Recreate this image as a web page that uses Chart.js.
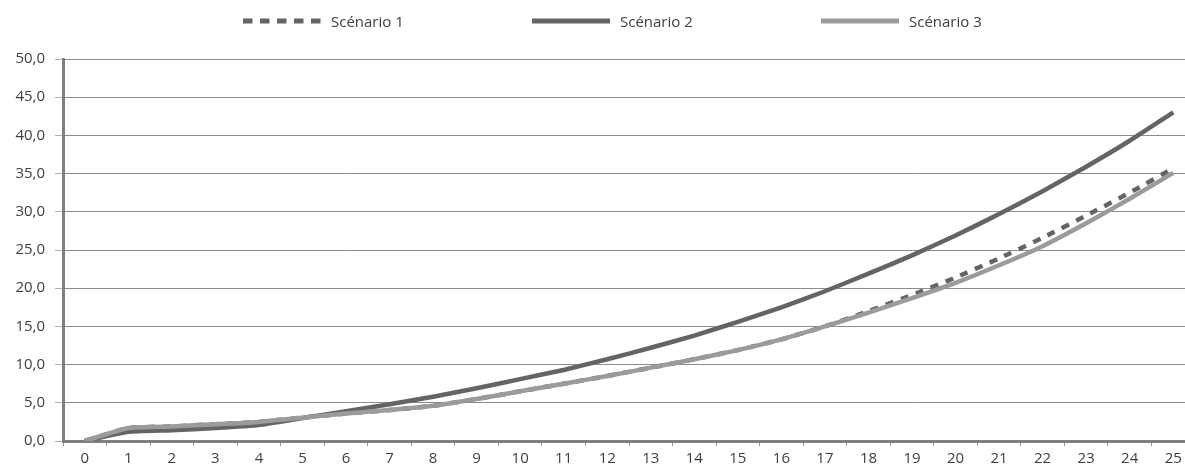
<!DOCTYPE html>
<html>
<head>
<meta charset="utf-8">
<script src="https://cdn.jsdelivr.net/npm/chart.js@4/dist/chart.umd.min.js"></script>
<style>
  html, body { margin: 0; padding: 0; background: #fff; overflow: hidden; }
  body { width: 1185px; height: 473px; position: relative; }
  #wrap { position: absolute; left: 0; top: 0; width: 1210px; height: 473px; }
  #legend { position: absolute; left: 243px; top: 11px; display: flex; font: 15px "Open Sans", sans-serif; color: #404040; }
  .item { width: 289px; display: flex; align-items: center; height: 20px; }
  .item span { margin-left: 10px; }
</style>
</head>
<body>
<div id="wrap"><canvas id="chart" width="1210" height="473"></canvas></div>
<div id="legend"></div>
<script>
// categories (years) and series values
const years = ['0', '1', '2', '3', '4', '5', '6', '7', '8', '9', '10', '11', '12',
  '13', '14', '15', '16', '17', '18', '19', '20', '21', '22', '23', '24', '25'];

const scenario1 = [0, 1.7, 1.9, 2.2, 2.5, 3.05, 3.6, 4.05, 4.6, 5.5, 6.5, 7.5, 8.5,
  9.6, 10.7, 11.9, 13.3, 15.0, 17.0, 19.1, 21.4, 23.9, 26.6, 29.5, 32.5, 35.7];
const scenario2 = [0, 1.2, 1.4, 1.7, 2.1, 3.0, 3.9, 4.8, 5.8, 6.9, 8.1, 9.3, 10.7,
  12.2, 13.8, 15.6, 17.5, 19.6, 21.9, 24.3, 26.9, 29.7, 32.7, 35.9, 39.3, 43.0];
const scenario3 = [0, 1.7, 1.9, 2.2, 2.5, 3.05, 3.6, 4.05, 4.6, 5.5, 6.5, 7.5, 8.5,
  9.6, 10.7, 11.9, 13.3, 15.0, 16.8, 18.7, 20.7, 23.0, 25.5, 28.5, 31.7, 35.1];

const seriesNames = ['Scénario 1', 'Scénario 2', 'Scénario 3'];
const seriesColors = ['#646464', '#646464', '#9b9b9b'];

Chart.defaults.font.family = '"Open Sans", sans-serif';
Chart.defaults.font.size = 15;
Chart.defaults.color = '#404040';

// html legend, the canvas one can't space items like the original
const legendEl = document.getElementById('legend');
seriesNames.forEach((name, i) => {
  const dash = i === 0 ? 'stroke-dasharray="9.5 7.5"' : '';
  const item = document.createElement('div');
  item.className = 'item';
  item.innerHTML = `<svg width="78" height="6"><line x1="0" y1="3" x2="78" y2="3"
    stroke="${seriesColors[i]}" stroke-width="5" ${dash}/></svg><span>${name}</span>`;
  legendEl.appendChild(item);
});

const ctx = document.getElementById('chart');
new Chart(ctx, {
  type: 'line',
  data: {
    labels: years,
    datasets: [
      {
        label: seriesNames[0],
        data: scenario1,
        borderColor: seriesColors[0],
        borderWidth: 4.5,
        borderDash: [8, 8],
        pointRadius: 0,
        tension: 0.15,
        order: 3
      },
      {
        label: seriesNames[1],
        data: scenario2,
        borderColor: seriesColors[1],
        borderWidth: 4.5,
        pointRadius: 0,
        tension: 0.15,
        order: 2
      },
      {
        label: seriesNames[2],
        data: scenario3,
        borderColor: seriesColors[2],
        borderWidth: 4.5,
        pointRadius: 0,
        tension: 0.15,
        order: 1
      }
    ]
  },
  options: {
    responsive: false,
    animation: false,
    layout: { padding: { top: 59, right: 15, left: 0, bottom: 0 } },
    plugins: {
      legend: { display: false },
      tooltip: { enabled: false }
    },
    scales: {
      x: {
        offset: true,
        afterFit: (scale) => { scale.height = 32; },
        grid: {
          offset: true,
          drawOnChartArea: false,
          tickLength: 5,
          color: '#9a9a9a'
        },
        border: { color: '#808080', width: 3 },
        ticks: { padding: 4, maxRotation: 0, autoSkip: false }
      },
      y: {
        min: 0,
        max: 50,
        afterFit: (scale) => { scale.width = 63; },
        grid: {
          color: 'rgba(0, 0, 0, 0.45)',
          lineWidth: 1,
          borderDash: [1, 2],
          tickLength: 8,
          tickColor: '#b0b0b0',
          tickBorderDash: [],
          tickWidth: 1
        },
        border: { color: '#7f7f7f', width: 3 },
        ticks: {
          stepSize: 5,
          padding: 10,
          callback: (v) => v.toFixed(1).replace('.', ',')
        }
      }
    }
  }
});
</script>
</body>
</html>
